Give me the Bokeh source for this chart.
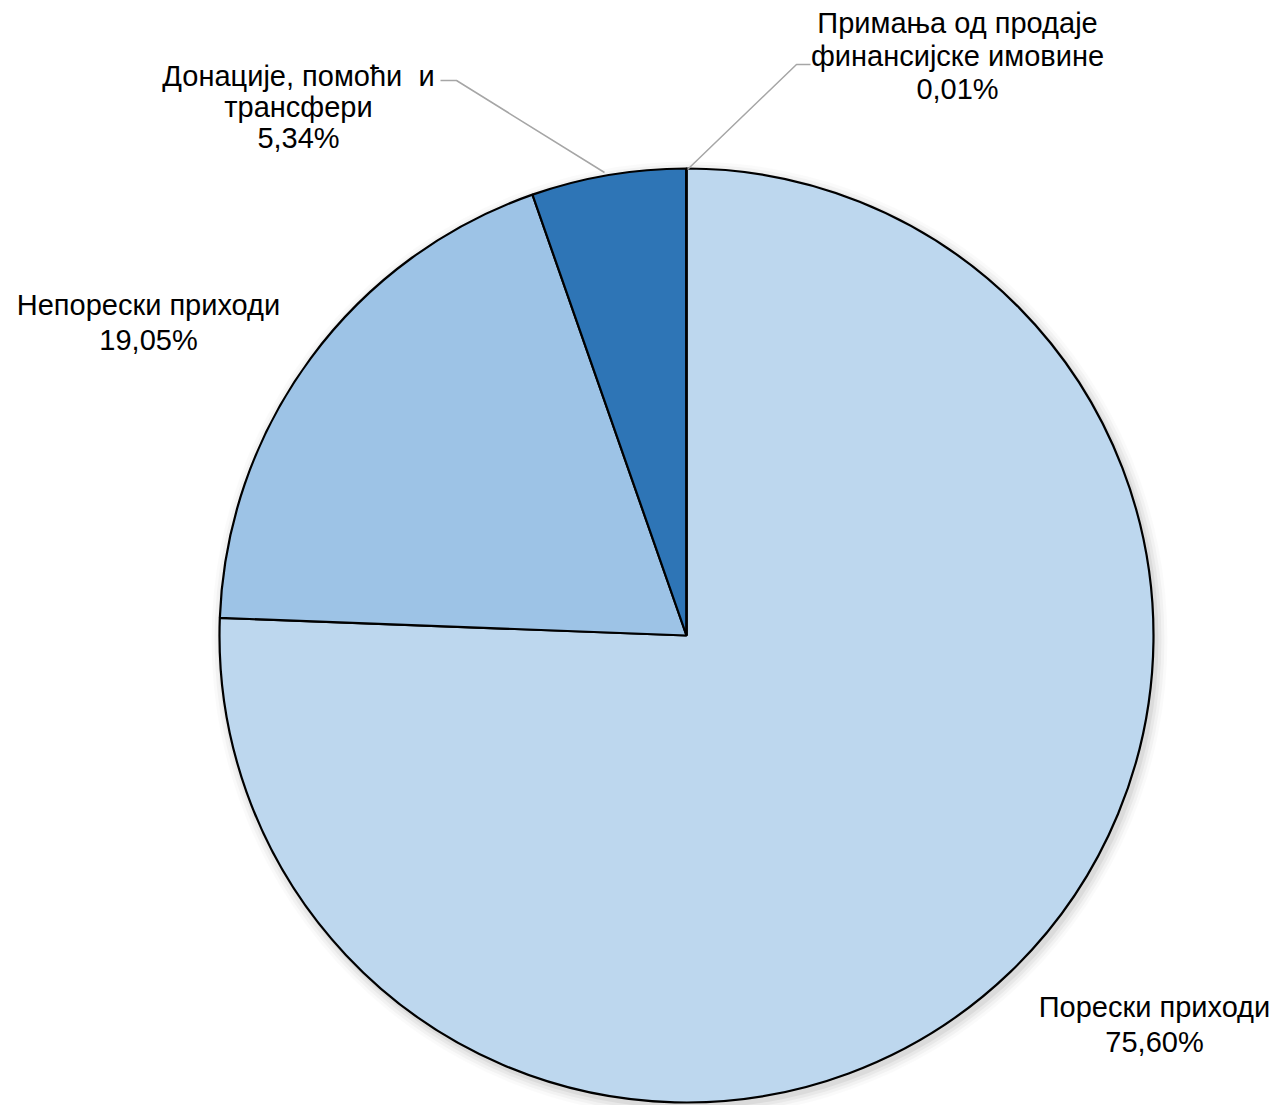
import math
from bokeh.plotting import figure
from bokeh.models import Range1d, ColumnDataSource
from bokeh.core.properties import value
from bokeh.embed import file_html
from bokeh.resources import INLINE

categories = ["Порески приходи", "Непорески приходи", "Донације, помоћи \u00a0и\nтрансфери", "Примања од продаје\nфинансијске имовине"]
shares = [75.60, 19.05, 5.34, 0.01]
share_labels = ["75,60%", "19,05%", "5,34%", "0,01%"]
colors = ["#BDD7EE", "#9DC3E6", "#2E75B6", "#2E75B6"]

W, H = 1278, 1105
def sy(y):  # screen y -> data y
    return H - y

p = figure(width=W, height=H, output_backend="svg", toolbar_location=None,
           x_range=Range1d(0, W), y_range=Range1d(0, H), min_border=0)
p.axis.visible = False
p.grid.visible = False
p.outline_line_color = None
p.background_fill_color = "white"

cx, cy, r = 686, sy(635), 467

# soft shadow
for i, a in enumerate([0.05, 0.04, 0.03, 0.02]):
    p.circle(x=[cx + 3], y=[cy - 4], radius=r + 2 + i * 3, fill_color="black",
             fill_alpha=a, line_color=None)

total = sum(shares)
starts, ends = [], []
cum = 0.0
for s in shares:
    starts.append(math.pi / 2 - 2 * math.pi * cum / total)
    cum += s
    ends.append(math.pi / 2 - 2 * math.pi * cum / total)

src = ColumnDataSource(dict(start=starts, end=ends, color=colors))
p.wedge(x=cx, y=cy, radius=r, start_angle="start", end_angle="end", direction="clock",
        fill_color="color", line_color="black", line_width=2.2, source=src)

# leader lines
p.line(x=[440, 456, 604], y=[sy(80), sy(80), sy(172)], line_color="#A6A6A6", line_width=1.5)
p.line(x=[810, 796, 687], y=[sy(64), sy(64), sy(169)], line_color="#A6A6A6", line_width=1.5)

# labels: (center x, first line y, line step)
label_pos = [(1154, 1006, 35), (148, 304, 35), (298, 75, 31), (957, 22, 33)]
xs, ys, ts = [], [], []
for cat, lab, (lx, ly, step) in zip(categories, share_labels, label_pos):
    lines = cat.split("\n") + [lab]
    for k, t in enumerate(lines):
        xs.append(lx)
        ys.append(sy(ly + k * step))
        ts.append(t)
p.text(x=xs, y=ys, text=ts, text_font=value("Liberation Sans"), text_font_size="29px",
       text_align="center", text_baseline="middle", text_color="black")

open("out.html", "w").write(file_html(p, INLINE))
